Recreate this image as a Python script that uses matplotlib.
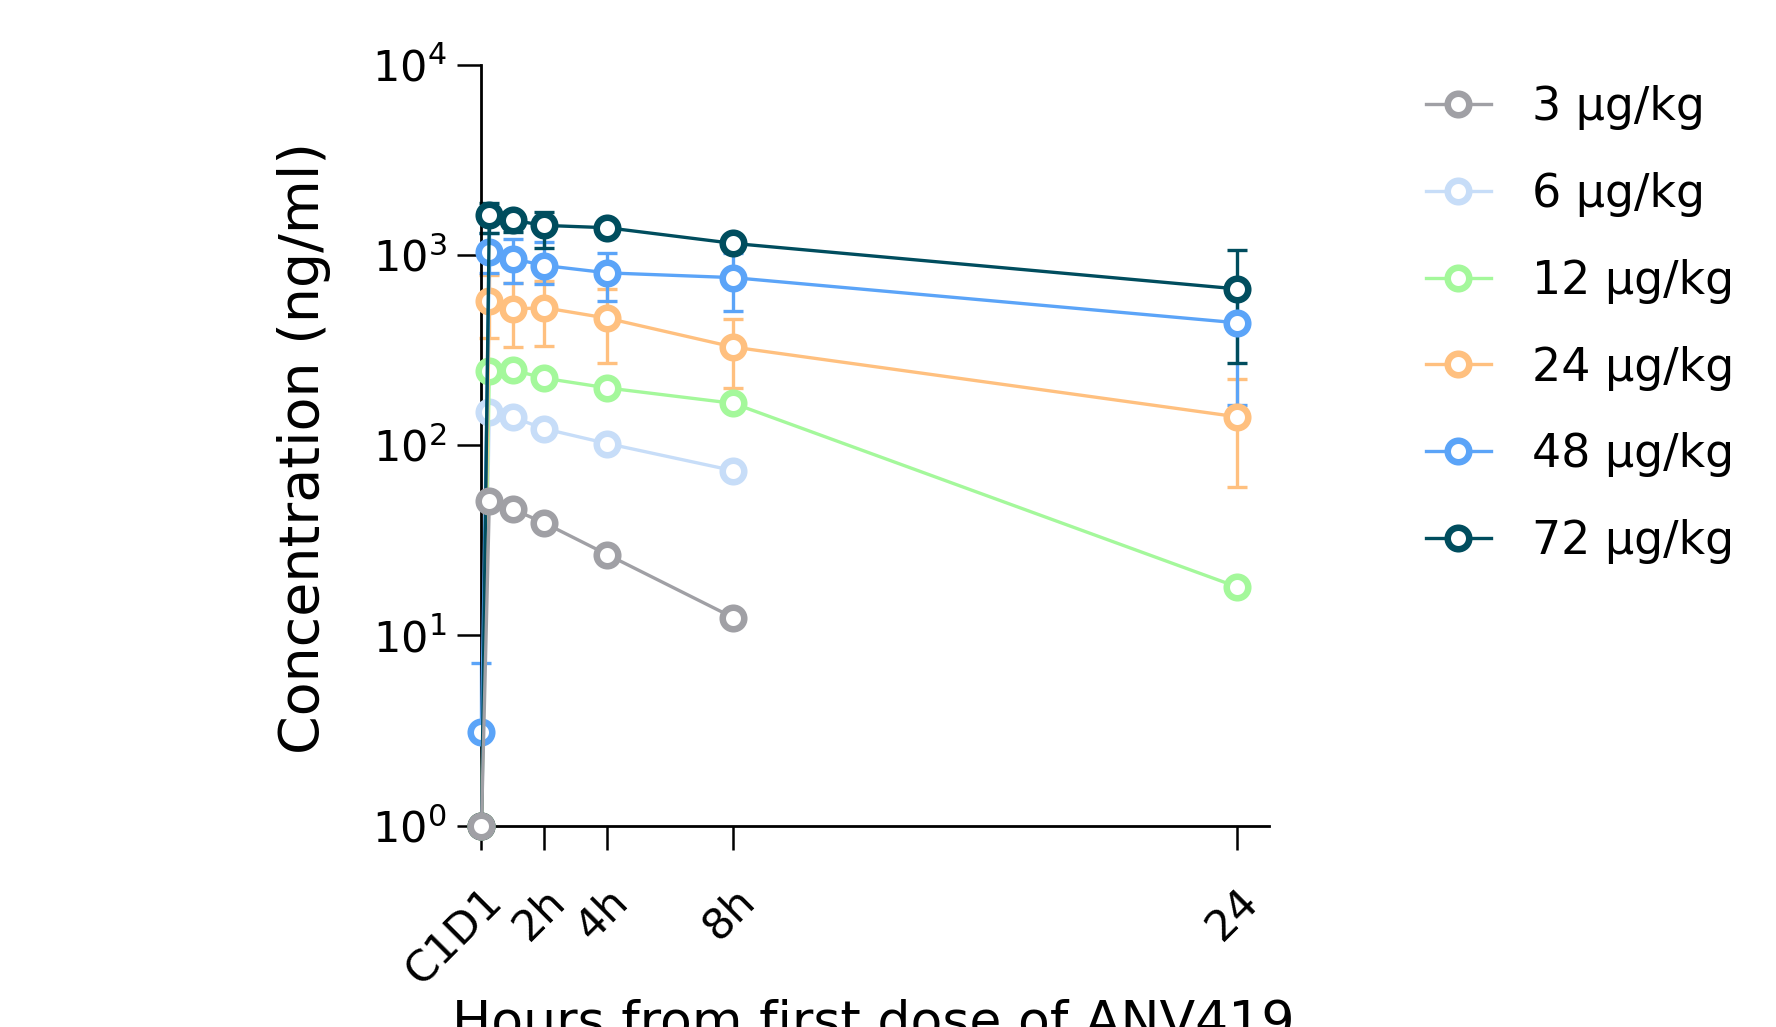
import numpy as np
import matplotlib
matplotlib.use("Agg")
import matplotlib.pyplot as plt

plt.rcParams['font.family'] = ['DejaVu Sans']
plt.rcParams['mathtext.fontset'] = 'dejavusans'

nan = np.nan

# 时间点 (h)
times = [0, 0.25, 1, 2, 4, 8, 24]
tick_pos = [0, 2, 4, 8, 24]
tick_labels = ["C1D1", "2h", "4h", "8h", "24"]

labels = ["3 µg/kg", "6 µg/kg", "12 µg/kg", "24 µg/kg", "48 µg/kg", "72 µg/kg"]
colors = ["#A0A0A5", "#C7DDF8", "#A4F89B", "#FFC07F", "#5BA4F8", "#004D5E"]

# 平均浓度 (ng/ml)
conc_3 = [1, 51, 46, 39, 26.6, 12.4, nan]
conc_6 = [1, 150, 140, 122, 102, 73.5, nan]
conc_12 = [1, 246, 248, 225, 200, 166, 18]
conc_24 = [1, 575, 520, 528, 465, 328, 141]
conc_48 = [3.1, 1035, 955, 880, 805, 760, 440]
conc_72 = [1, 1615, 1520, 1430, 1390, 1150, 663]

# 误差棒上下端 (nan = 无)
low_24 = [nan, 367, 329, 332, 272, 199, 60]
high_24 = [nan, 783, 713, 731, 659, 460, 224]
low_48 = [nan, 800, 713, 700, 574, 507, 163]
high_48 = [7.13, 1306, 1206, 1172, 1030, 1018, 722]
low_72 = [nan, 1306, 1322, 1094, nan, nan, 272]
high_72 = [nan, 1879, 1650, 1686, nan, nan, 1057]

series = [conc_3, conc_6, conc_12, conc_24, conc_48, conc_72]
errors = {3: (low_24, high_24), 4: (low_48, high_48), 5: (low_72, high_72)}

fig = plt.figure(figsize=(17.76, 10.27), dpi=100)
ax = fig.add_axes([0.2711, 0.196, 0.4432, 0.741])

t = np.array(times, dtype=float)
for i, (y, c, lab) in enumerate(zip(series, colors, labels)):
    y = np.array(y, dtype=float)
    z = 3 + i * 0.1 if i > 0 else 4  # 灰色放最上面 (C1D1 点)
    if i in errors:
        lo, hi = (np.array(a, dtype=float) for a in errors[i])
        e_lo = np.where(np.isnan(lo), 0, y - lo)
        e_hi = np.where(np.isnan(hi), 0, hi - y)
        ax.errorbar(t, y, yerr=[e_lo, e_hi], fmt='none', ecolor=c,
                    elinewidth=2.4, capsize=7, capthick=2.4,
                    clip_on=False, zorder=2 + i * 0.1)
    ax.plot(t, y, color=c, lw=2.4, marker='o', ms=15.5, mew=4.7,
            mfc='white', mec=c, label=lab, clip_on=False, zorder=z)

ax.set_yscale('log')
ax.set_ylim(1, 1e4)
ax.set_xlim(0, 25)
ax.set_yticks([1, 10, 100, 1000, 10000])
ax.set_yticklabels([r'$10^{0}$', r'$10^{1}$', r'$10^{2}$', r'$10^{3}$', r'$10^{4}$'])
ax.yaxis.set_minor_locator(matplotlib.ticker.NullLocator())
ax.set_xticks(tick_pos)
ax.set_xticklabels(tick_labels, rotation=45, ha='right', rotation_mode='anchor')

for s in ['top', 'right']:
    ax.spines[s].set_visible(False)
for s in ['left', 'bottom']:
    ax.spines[s].set_linewidth(2.0)
ax.tick_params(axis='both', length=17, width=1.8, labelsize=31)
ax.tick_params(axis='y', pad=8)
ax.tick_params(axis='x', pad=22)

ax.set_ylabel("Concentration (ng/ml)", fontsize=40)
ax.yaxis.set_label_coords(-0.191, 0.496)
ax.set_xlabel("Hours from first dose of ANV419", fontsize=37.5)
ax.xaxis.set_label_coords(0.4976, -0.227)

ax.legend(loc='upper left', bbox_to_anchor=(1.148, 1.027), frameon=False,
          fontsize=33, handlelength=1.4, handletextpad=0.9, labelspacing=0.91)

plt.savefig('out.png', dpi=100)
